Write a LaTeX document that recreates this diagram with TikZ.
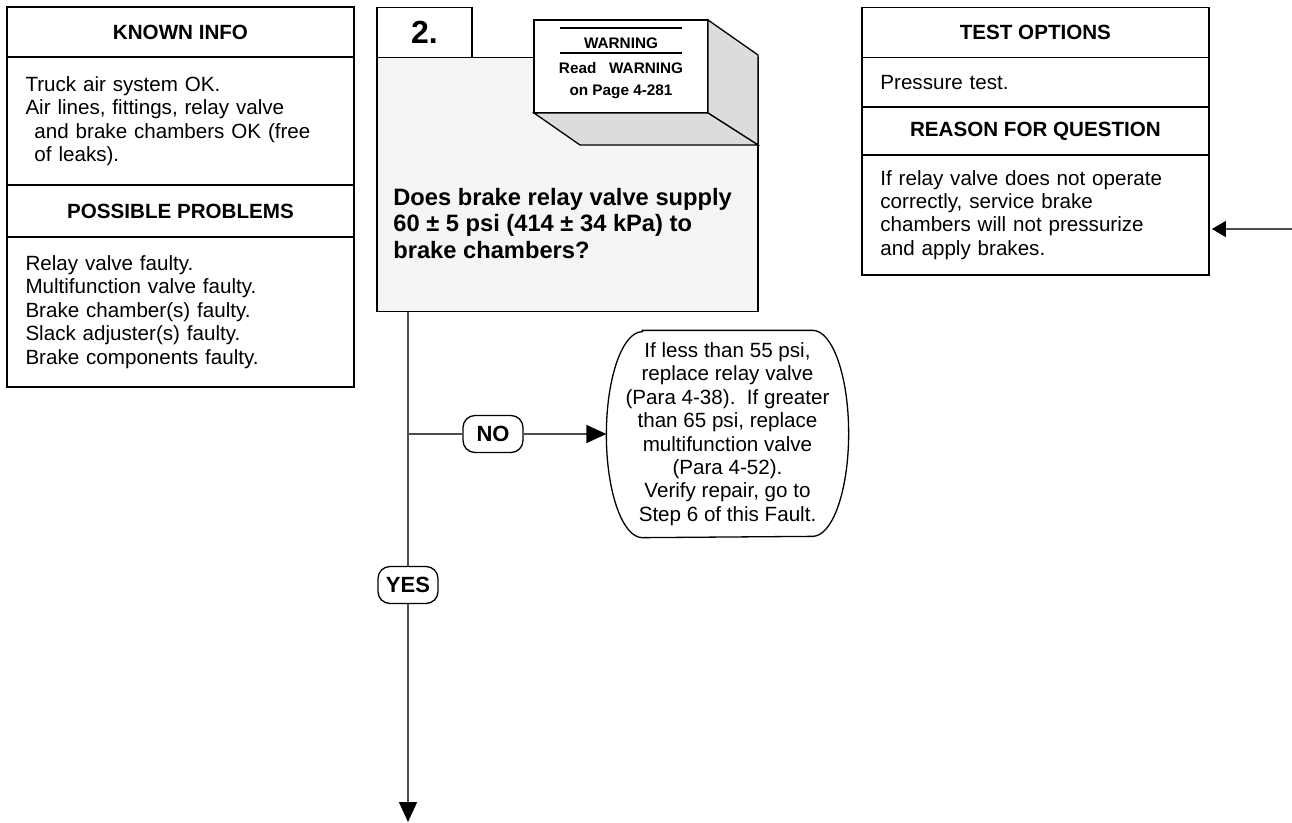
\documentclass[tikz,border=0pt]{standalone}
\usepackage{fontspec}
\setmainfont{Liberation Sans}
\usetikzlibrary{arrows.meta, positioning, calc}
\definecolor{cline}{HTML}{4D4D4D}
\definecolor{cpanel}{HTML}{F5F5F5}
\definecolor{cside}{HTML}{DCDCDC}
\newcommand{\bodyfont}{\fontsize{20.6pt}{23.4pt}\selectfont}
\tikzset{
  every picture/.style={line width=1.3pt},
  head/.style={draw, minimum width=347pt, minimum height=#1, inner sep=0pt, outer sep=0pt, font=\bodyfont\bfseries},
  head/.default=50pt,
  body/.style={draw, text width=310pt, inner xsep=18.5pt, inner ysep=0pt, outer sep=0pt, minimum height=#1,
               align=left, font=\bodyfont},
  body/.default=50pt,
  answer/.style={draw, rounded corners=12pt, minimum width=60pt, minimum height=37pt, inner sep=0pt,
                 font=\fontsize{22pt}{24pt}\selectfont\bfseries},
  link/.style={draw=cline, line width=1.5pt},
  arrow/.style={link, -{Triangle[length=20pt, width=18pt, color=black]}},
}

\begin{document}
\begin{tikzpicture}[x=1pt, y=-1pt,
  qbox/.style={draw, fill=cpanel, line width=1.6pt, minimum width=381pt, minimum height=254pt, inner sep=0pt, outer sep=0pt},
  tab/.style={draw, fill=white, minimum width=95pt, minimum height=50pt, inner sep=0pt, outer sep=0pt,
              font=\fontsize{32pt}{34pt}\selectfont\bfseries},
  warnface/.style={draw, fill=white, minimum width=174pt, minimum height=93pt, inner sep=0pt, outer sep=0pt},
  warntxt/.style={align=center, inner sep=0pt, font=\fontsize{15.3pt}{22pt}\selectfont\bfseries},
  qtext/.style={align=left, inner sep=0pt, font=\fontsize{23.7pt}{26.7pt}\selectfont\bfseries},
  fixtext/.style={align=center, minimum width=241pt, minimum height=206pt, inner sep=0pt, font=\bodyfont}]
  \useasboundingbox (0,0) rectangle (1292,822);
  % left column
  \node[head] (known) at (180.5,32) {KNOWN INFO};
  \node[body=128pt, below=0pt of known] (knowntxt) {Truck air system OK.\\Air lines, fittings, relay valve\\
    \hspace*{9pt}and brake chambers OK (free\\\hspace*{9pt}of leaks).};
  \node[head=52pt, below=0pt of knowntxt] (probs) {POSSIBLE PROBLEMS};
  \node[body=150pt, below=0pt of probs] (probstxt) {Relay valve faulty.\\Multifunction valve faulty.\\
    Brake chamber(s) faulty.\\Slack adjuster(s) faulty.\\Brake components faulty.};
  % right column
  \node[head] (tests) at (1035.4,32.3) {TEST OPTIONS};
  \node[body=49.6pt, below=0pt of tests] (teststxt) {Pressure test.};
  \node[head=48pt, below=0pt of teststxt] (reason) {REASON FOR QUESTION};
  \node[body=120pt, below=0pt of reason] (reasontxt) {If relay valve does not operate\\correctly, service brake\\
    chambers will not pressurize\\and apply brakes.};
  % question step
  \node[qbox] (qbox) at (567.4,184.5) {};
  \node[tab, above right=0pt and 0pt of qbox.north west] (num) {2.};
  \node[qtext, anchor=west] (question) at (392.7,223.5) {Does brake relay valve supply\\
    60 ± 5 psi (414 ± 34 kPa) to\\brake chambers?};
  \node[warnface] (warn) at (621,66.5) {};
  \draw[fill=cside] (warn.north east) -- ++(50,35) -- ++(0,90) -- (warn.south east) -- cycle;
  \draw[fill=cside] (warn.south west) -- (warn.south east) -- ++(50,32) -- ++(-178,0) -- cycle;
  \draw[line width=1.5pt] ($(warn.north)+(-61,8)$) -- ++(122,0);
  \draw[line width=1.5pt] ($(warn.north)+(-61,33)$) -- ++(122,0);
  \node[warntxt] (wtitle) at (621,43) {WARNING};
  \node[warntxt] (wread) at (621,81) {Read\ \ \ WARNING\\on Page 4-281};
  % answers
  \node[fixtext] (fix) at (727.5,434) {If less than 55 psi,\\replace relay valve\\(Para 4-38).~~If greater\\
    than 65 psi, replace\\multifunction valve\\(Para 4-52).\hspace*{10pt}\\Verify repair, go to\\Step 6 of this Fault.};
  \draw ([xshift=36pt]fix.north west) -- ([xshift=-36pt]fix.north east)
    arc[start angle=90, end angle=-90, x radius=36pt, y radius=103pt] -- ([xshift=36pt]fix.south west)
    arc[start angle=270, end angle=90, x radius=36pt, y radius=103pt] -- cycle;
  \node[answer] (no) at (493,434) {NO};
  \node[answer] (yes) at (408,585) {YES};
  \coordinate (next) at (408,822);
  \coordinate (enter) at (1292,229);
  \draw[link] (qbox.south -| yes) -- (yes);
  \draw[link] (yes |- no) -- (no);
  \draw[arrow] (no) -- (fix);
  \draw[arrow] (yes) -- (next);
  \draw[link, -{Triangle[length=14pt, width=16pt, color=black]}, shorten >=3pt] (enter) -- (reasontxt.east |- enter);
\end{tikzpicture}
\end{document}
